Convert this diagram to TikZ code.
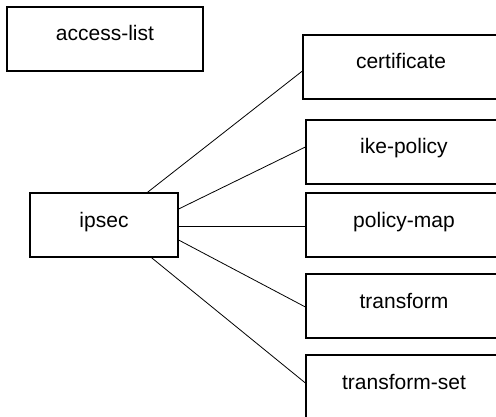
\documentclass[tikz,border=0pt]{standalone}
\usepackage{fontspec}
\setmainfont{Liberation Sans}
\usetikzlibrary{calc}
\begin{document}
\begin{tikzpicture}[x=0.75pt,y=-0.75pt,
  box/.style={draw, line width=0.9pt, rectangle, inner sep=0pt,
    text height=25.5pt, text depth=22.5pt, minimum width=147pt,
    font=\fontsize{15.75}{18}\selectfont},
  link/.style={line width=0.6pt}]
\useasboundingbox (0,0) rectangle (496,417);
\clip (0,0) rectangle (496,417);
% left column
\node[box] (acl) at (105,39) {access-list};
\node[box, minimum width=111pt] (ipsec) at (104,225) {ipsec};
% right column
\node[box] (cert) at (401,67) {certificate};
\node[box] (ike) at (404,152) {ike-policy};
\node[box] (pmap) at (404,225) {policy-map};
\node[box] (tf) at (404,306) {transform};
\node[box] (tfs) at (404,387) {transform-set};
% connectors from ipsec
\draw[link] ($(ipsec.north west)+(118,0)$) -- ($(cert.west)+(0,4)$);
\draw[link] ($(ipsec.east)+(0,-16)$) -- ($(ike.west)+(0,-5)$);
\draw[link] ($(ipsec.east)+(0,1)$) -- ($(pmap.west)+(0,1)$);
\draw[link] ($(ipsec.east)+(0,15)$) -- ($(tf.west)+(0,1)$);
\draw[link] ($(ipsec.south west)+(122,0)$) -- ($(tfs.west)+(0,-4)$);
\end{tikzpicture}
\end{document}
